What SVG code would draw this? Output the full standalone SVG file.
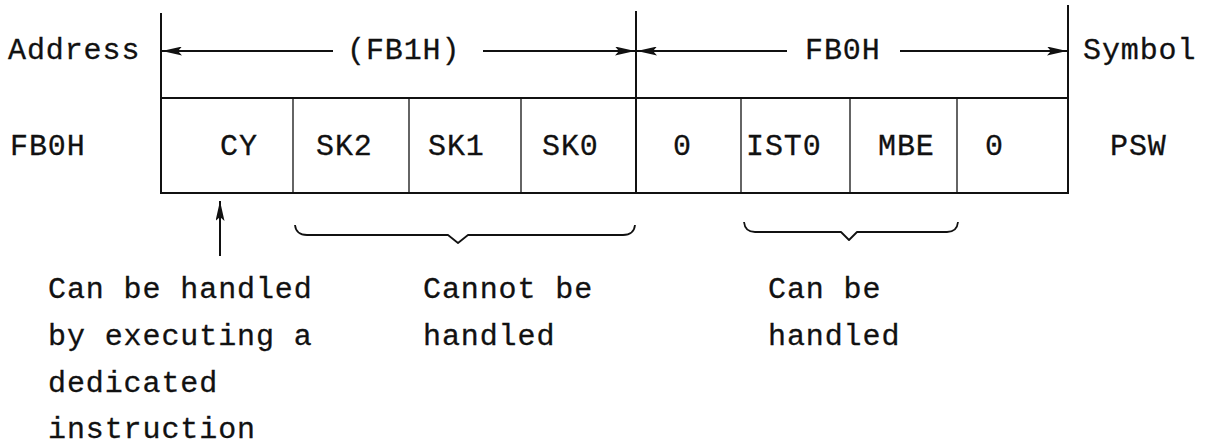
<svg xmlns="http://www.w3.org/2000/svg" width="1205" height="447" viewBox="0 0 1205 447">
  <defs>
    <style>
      text { font-family: "Liberation Mono", "Courier New", monospace; font-size: 30px; letter-spacing: 0.9px; fill: #111; stroke: #111; stroke-width: 0.3px; }
      .frame { stroke: #111; stroke-width: 2; fill: none; }
      .cell { stroke: #111; stroke-width: 1.3; fill: none; }
      .line { stroke: #111; stroke-width: 2; fill: none; }
      .brace { stroke: #111; stroke-width: 1.8; fill: none; stroke-linejoin: round; }
    </style>
    <marker id="head" viewBox="0 0 20 9" refX="20" refY="4.5" markerWidth="20" markerHeight="9" markerUnits="userSpaceOnUse" orient="auto">
      <path d="M0,0 L20,4.5 L0,9 L4,4.5 Z" fill="#111"/>
    </marker>
  </defs>
  <rect width="1205" height="447" fill="#fff"/>

  <!-- row labels -->
  <g id="labels">
    <text x="8" y="59">Address</text>
    <text x="10" y="155">FB0H</text>
    <text x="1083" y="59">Symbol</text>
    <text x="1110" y="155">PSW</text>
  </g>

  <!-- register frame and bit cells -->
  <g id="register">
    <line class="frame" x1="161" y1="13" x2="161" y2="194"/>
    <line class="frame" x1="636" y1="11" x2="636" y2="194"/>
    <line class="frame" x1="1068" y1="5" x2="1068" y2="194"/>
    <line class="frame" x1="161" y1="98" x2="1068" y2="98"/>
    <line class="frame" x1="161" y1="193" x2="1068" y2="193"/>
    <line class="cell" x1="293" y1="98" x2="293" y2="193"/>
    <line class="cell" x1="409" y1="98" x2="409" y2="193"/>
    <line class="cell" x1="521" y1="98" x2="521" y2="193"/>
    <line class="cell" x1="741" y1="98" x2="741" y2="193"/>
    <line class="cell" x1="850" y1="98" x2="850" y2="193"/>
    <line class="cell" x1="957" y1="98" x2="957" y2="193"/>
  </g>
  <g id="bit-cy"><text x="220" y="155">CY</text></g>
  <g id="bit-sk2"><text x="316" y="155">SK2</text></g>
  <g id="bit-sk1"><text x="428" y="155">SK1</text></g>
  <g id="bit-sk0"><text x="542" y="155">SK0</text></g>
  <g id="bit-3"><text x="673" y="155">0</text></g>
  <g id="bit-ist0"><text x="746" y="155">IST0</text></g>
  <g id="bit-mbe"><text x="878" y="155">MBE</text></g>
  <g id="bit-0"><text x="985" y="155">0</text></g>

  <!-- address span labels -->
  <g id="span-fb1h"><text x="347" y="59">(FB1H)</text></g>
  <g id="span-fb0h"><text x="805" y="59">FB0H</text></g>

  <!-- comments under the register -->
  <g id="note-cy">
    <text x="48" y="298">Can be handled</text>
    <text x="48" y="345">by executing a</text>
    <text x="48" y="392">dedicated</text>
    <text x="48" y="438">instruction</text>
  </g>
  <g id="note-sk">
    <text x="423" y="298">Cannot be</text>
    <text x="423" y="345">handled</text>
  </g>
  <g id="note-ist">
    <text x="768" y="298">Can be</text>
    <text x="768" y="345">handled</text>
  </g>

  <!-- connectors: span arrows, pointer arrow and braces -->
  <g id="connectors">
    <line class="line" x1="333" y1="51" x2="162" y2="51" marker-end="url(#head)"/>
    <line class="line" x1="483" y1="51" x2="635" y2="51" marker-end="url(#head)"/>
    <line class="line" x1="787" y1="51" x2="637" y2="51" marker-end="url(#head)"/>
    <line class="line" x1="900" y1="51" x2="1067" y2="51" marker-end="url(#head)"/>
    <line class="line" x1="220" y1="256" x2="220" y2="201" marker-end="url(#head)"/>
    <path class="brace" d="M295,225 Q296,235 307,235 L448,235 L458,243 L468,235 L623,235 Q634,235 635,225"/>
    <path class="brace" d="M744,222 Q745,232 755,232 L841,232 L849,240 L857,232 L947,232 Q957,232 958,222"/>
  </g>
</svg>
